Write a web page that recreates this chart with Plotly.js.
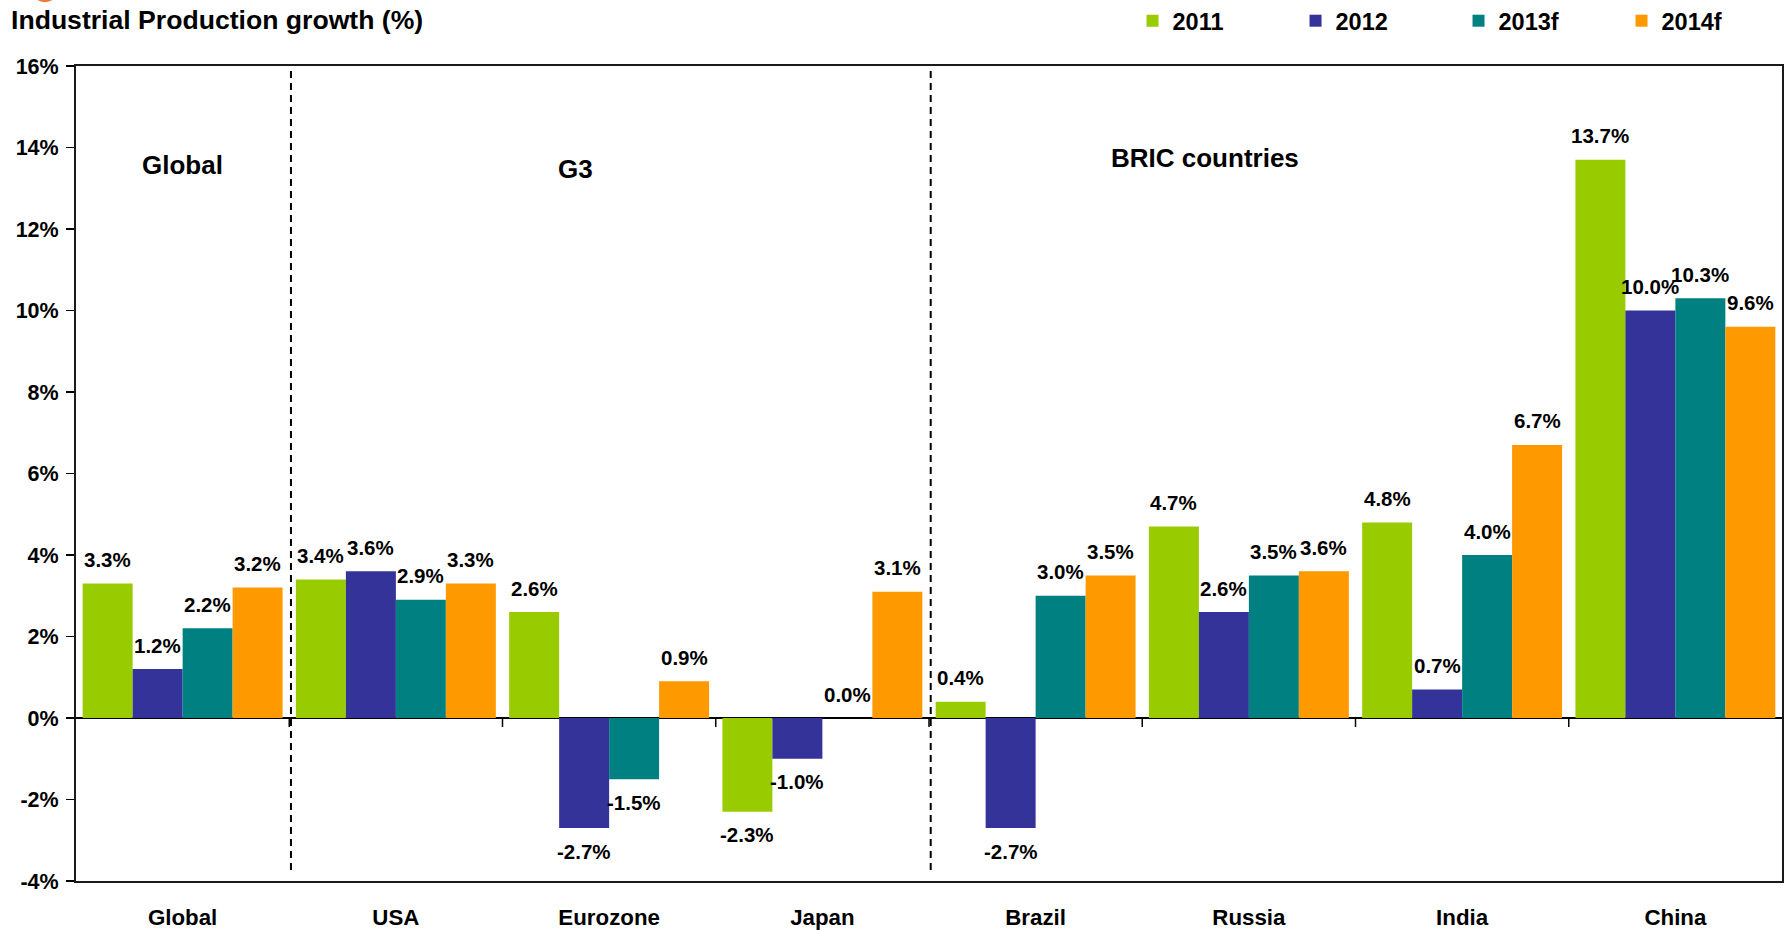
<!DOCTYPE html>
<html>
<head>
<meta charset="utf-8">
<script src="https://cdn.plot.ly/plotly-3.0.1.min.js"></script>
<style>
  html, body { margin: 0; padding: 0; background: #fff; }
  #chart { width: 1784px; height: 930px; }
</style>
</head>
<body>
<div id="chart"></div>
<script>
// ---- data ----
const categories = ['Global', 'USA', 'Eurozone', 'Japan', 'Brazil', 'Russia', 'India', 'China'];
const seriesNames = ['2011', '2012', '2013f', '2014f'];
const v2011  = [3.3, 3.4, 2.6, -2.3, 0.4, 4.7, 4.8, 13.7];
const v2012  = [1.2, 3.6, -2.7, -1.0, -2.7, 2.6, 0.7, 10.0];
const v2013f = [2.2, 2.9, -1.5, 0.0, 3.0, 3.5, 4.0, 10.3];
const v2014f = [3.2, 3.3, 0.9, 3.1, 3.5, 3.6, 6.7, 9.6];
const groupLabels = ['Global', 'G3', 'BRIC countries'];
const yTickVals = [-4, -2, 0, 2, 4, 6, 8, 10, 12, 14, 16];
const yTickText = yTickVals.map(v => v + '%');

// ---- styles ----
const FONT = '"Liberation Sans", Arial, Helvetica, sans-serif';
const colors = ['#99cc00', '#333399', '#008080', '#ff9900'];
const allSeries = [v2011, v2012, v2013f, v2014f];
const BARGAP = 0.0625;

const traces = allSeries.map((vals, j) => ({
  type: 'bar',
  name: seriesNames[j],
  x: categories,
  y: vals,
  marker: { color: colors[j], line: { width: 0 } },
  hoverinfo: 'skip'
}));

// value labels as annotations, positioned on the category scale
const groupW = 1 - BARGAP;
const annotations = [];
allSeries.forEach((vals, j) => {
  const off = -groupW / 2 + (j + 0.5) * groupW / allSeries.length;
  vals.forEach((v, i) => {
    annotations.push({
      x: i + off, y: v, xref: 'x', yref: 'y',
      text: v.toFixed(1) + '%',
      showarrow: false,
      xanchor: 'center', yanchor: 'middle',
      yshift: v >= 0 ? 24 : -23,
      font: { family: FONT, size: 20.5, color: '#000', weight: 'bold' }
    });
  });
});

// region labels
const groupPos = [[0, 13.58], [1.842, 13.47], [4.792, 13.75]];
groupLabels.forEach((t, k) => {
  annotations.push({
    x: groupPos[k][0], y: groupPos[k][1], xref: 'x', yref: 'y',
    text: t, showarrow: false, xanchor: 'center', yanchor: 'middle',
    font: { family: FONT, size: 26, color: '#000', weight: 'bold' }
  });
});

const shapes = [];
// dashed separators
[0.5, 3.5].forEach(b => {
  shapes.push({
    type: 'line', xref: 'x', yref: 'y',
    x0: b + 0.008, x1: b + 0.008, y0: -3.73, y1: 16,
    line: { color: '#000', width: 2, dash: '7px,5px' }
  });
});
// small tick marks on the zero line at category boundaries
for (let i = 0; i < categories.length - 1; i++) {
  shapes.push({
    type: 'line', xref: 'x', yref: 'y',
    x0: i + 0.5, x1: i + 0.5,
    ysizemode: 'pixel', yanchor: 0, y0: 0, y1: -9,
    line: { color: '#000', width: 1.5 }
  });
}
// cut-off logo at top-left
shapes.push({
  type: 'circle', xref: 'paper', yref: 'paper',
  xsizemode: 'pixel', ysizemode: 'pixel',
  xanchor: -0.0182, yanchor: 1.0955,
  x0: -14, x1: 14, y0: -14, y1: 14,
  fillcolor: '#f07830', line: { width: 0 }
});

const layout = {
  width: 1784, height: 930,
  margin: { l: 76, r: 2, t: 66, b: 49, pad: 0, autoexpand: false },
  paper_bgcolor: '#fff', plot_bgcolor: '#fff',
  barmode: 'group', bargap: BARGAP, bargroupgap: 0,
  showlegend: true,
  hovermode: false,
  title: {
    text: 'Industrial Production growth (%)',
    xref: 'container', yref: 'container',
    x: 11 / 1784, xanchor: 'left',
    y: 1 - 20 / 930, yanchor: 'middle',
    font: { family: FONT, size: 26.6, color: '#000', weight: 'bold' },
    automargin: false
  },
  legend: {
    orientation: 'h',
    x: 0.6193, xanchor: 'left',
    y: 1.0553, yanchor: 'middle',
    entrywidth: 118, entrywidthmode: 'pixels',
    bgcolor: 'rgba(0,0,0,0)', borderwidth: 0,
    font: { family: FONT, size: 23.5, color: '#000', weight: 'bold' },
    traceorder: 'normal'
  },
  xaxis: {
    type: 'category',
    categoryorder: 'array', categoryarray: categories,
    range: [-0.5, categories.length - 0.5],
    showgrid: false, zeroline: false,
    showline: true, mirror: true, linecolor: '#1a1a1a', linewidth: 2,
    ticks: '', ticklabelstandoff: 15,
    tickfont: { family: FONT, size: 22.3, color: '#000', weight: 'bold' },
    automargin: false,
    fixedrange: true
  },
  yaxis: {
    range: [-4, 16],
    tickmode: 'array',
    tickvals: yTickVals,
    ticktext: yTickText,
    showgrid: false,
    zeroline: true, zerolinecolor: '#000', zerolinewidth: 2.5,
    showline: true, mirror: true, linecolor: '#1a1a1a', linewidth: 2,
    ticks: 'outside', ticklen: 8, tickwidth: 1.5, tickcolor: '#000',
    ticklabelstandoff: 3,
    tickfont: { family: FONT, size: 21.5, color: '#000', weight: 'bold' },
    automargin: false,
    fixedrange: true
  },
  annotations: annotations,
  shapes: shapes
};

Plotly.newPlot('chart', traces, layout, { staticPlot: true, displayModeBar: false });
</script>
</body>
</html>
